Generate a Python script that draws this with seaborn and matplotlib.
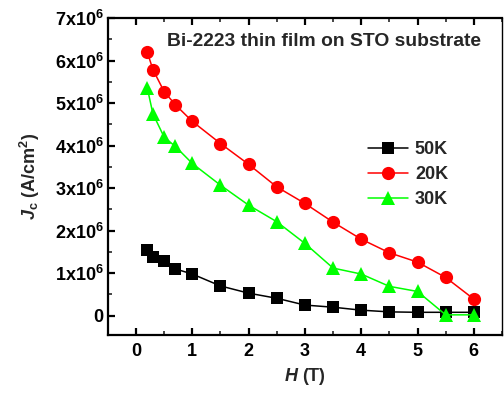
import matplotlib
matplotlib.use("Agg")
import matplotlib.pyplot as plt
import seaborn as sns
import pandas as pd
from matplotlib.ticker import MultipleLocator, FixedLocator

H = [0.2, 0.3, 0.5, 0.7, 1.0, 1.5, 2.0, 2.5, 3.0, 3.5, 4.0, 4.5, 5.0, 5.5, 6.0]
jc_50K = [1.55, 1.39, 1.29, 1.10, 0.98, 0.70, 0.53, 0.41, 0.25, 0.20, 0.13, 0.09, 0.08, 0.08, 0.08]
jc_20K = [6.20, 5.79, 5.27, 4.96, 4.57, 4.05, 3.56, 3.03, 2.64, 2.20, 1.80, 1.48, 1.26, 0.90, 0.39]
jc_30K = [5.36, 4.75, 4.20, 3.98, 3.58, 3.07, 2.60, 2.21, 1.70, 1.12, 0.98, 0.69, 0.57, 0.02, 0.02]
scale = 1e6
ytick_vals = [0, 1, 2, 3, 4, 5, 6, 7]
ytick_labels = ["0"] + [f"{v}x10$^{{6}}$" for v in ytick_vals[1:]]
xtick_vals = [0, 1, 2, 3, 4, 5, 6]
title_text = "Bi-2223 thin film on STO substrate"

sns.set_theme(style="ticks")
plt.rcParams['font.family'] = ['Liberation Sans', 'DejaVu Sans']
plt.rcParams['font.weight'] = 'bold'
plt.rcParams['axes.labelweight'] = 'bold'
plt.rcParams['mathtext.fontset'] = 'custom'
plt.rcParams['mathtext.rm'] = 'Liberation Sans:bold'
plt.rcParams['mathtext.it'] = 'Liberation Sans:bold:italic'
plt.rcParams['mathtext.bf'] = 'Liberation Sans:bold'
plt.rcParams['mathtext.sf'] = 'Liberation Sans:bold'

fig = plt.figure(figsize=(5.04, 3.93), dpi=100)
ax = fig.add_axes([0.214, 0.148, 0.782, 0.806])

series = [
    ("50K", jc_50K, "black", "s", 8),
    ("20K", jc_20K, "#ff0000", "o", 9.5),
    ("30K", jc_30K, "#00ff00", "^", 10),
]
for i, (lab, vals, col, mk, ms) in enumerate(series):
    df = pd.DataFrame({"H": H, "Jc": [v * scale for v in vals]})
    sns.lineplot(data=df, x="H", y="Jc", ax=ax, color=col, marker=mk,
                 markersize=ms, markeredgewidth=0, linewidth=1.1,
                 label=lab, zorder=3 + i)

ax.set_xlim(-0.5, 6.5)
ax.set_ylim(-0.45e6, 7e6)
ax.xaxis.set_major_locator(FixedLocator(xtick_vals))
ax.xaxis.set_minor_locator(MultipleLocator(0.5))
ax.yaxis.set_major_locator(FixedLocator([v * scale for v in ytick_vals]))
ax.yaxis.set_minor_locator(MultipleLocator(0.5e6))
ax.set_yticklabels(ytick_labels, fontweight='bold', fontsize=13)
ax.set_xticklabels([str(v) for v in xtick_vals], fontweight='bold', fontsize=13)

for s in ax.spines.values():
    s.set_linewidth(1.6)
    s.set_color("black")
ax.spines['right'].set_linewidth(1.0)
ax.tick_params(which='major', direction='in', length=5, width=1.6,
               top=True, right=False, colors='black')
ax.tick_params(axis='y', which='major', pad=3)
ax.tick_params(axis='x', which='major', pad=6)
ax.tick_params(which='minor', direction='in', length=3, width=1.2, top=True, right=False)

ax.set_xlabel("$\\mathit{H}$ (T)", fontsize=13, fontweight='bold', labelpad=4)
ax.set_ylabel("$\\mathit{J}_{\\mathrm{c}}$ (A/cm$^{2}$)", fontsize=13, fontweight='bold', labelpad=9)

ax.text(0.947, 0.925, title_text, transform=ax.transAxes, ha='right', va='center',
        fontsize=13.9, fontweight='bold')

leg = ax.legend(loc='upper left', bbox_to_anchor=(0.66, 0.612), frameon=False,
                prop={'size': 13, 'weight': 'bold'}, handlelength=2.2, handletextpad=0.4,
                labelspacing=0.45, borderpad=0, borderaxespad=0)

fig.savefig("out.png", dpi=100)
